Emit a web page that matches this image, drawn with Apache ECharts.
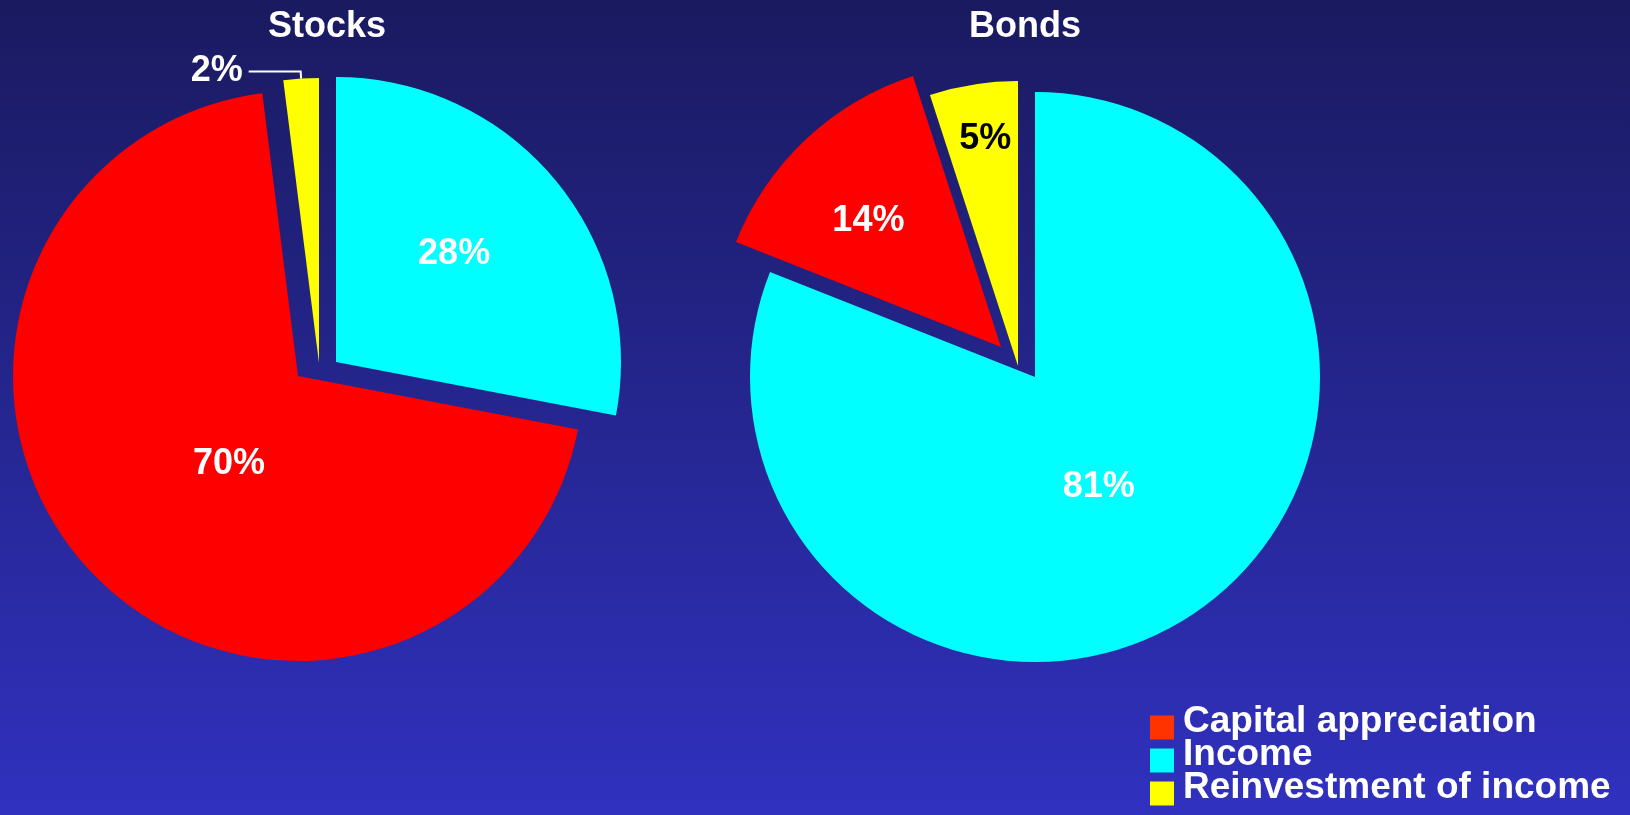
<!DOCTYPE html>
<html>
<head>
<meta charset="utf-8">
<title>Stocks vs Bonds</title>
<script src="https://cdn.jsdelivr.net/npm/echarts@6/dist/echarts.min.js"></script>
<style>
  html, body { margin: 0; padding: 0; }
  #chart { width: 1630px; height: 815px; }
</style>
</head>
<body>
<div id="chart"></div>
<script>
// ---- data ----
const legendNames = ["Capital appreciation", "Income", "Reinvestment of income"];
// slice order around each pie, clockwise from 12 o'clock
const sliceNames = ["Income", "Capital appreciation", "Reinvestment of income"];
const pieTitles = ["Stocks", "Bonds"];
const stocksValues = [28, 70, 2];
const bondsValues = [81, 14, 5];

// ---- layout / style ----
const FONT = "'Liberation Sans', Arial, sans-serif";
const RADIUS = 285;
const sliceColors = {
  "Capital appreciation": "#ff0000",
  "Income": "#00ffff",
  "Reinvestment of income": "#ffff00"
};
const legendColors = {
  "Capital appreciation": "#ff3300",
  "Income": "#00ffff",
  "Reinvestment of income": "#ffff00"
};
// every slice is pulled out on its own, so each gets its own centre
const stocksCenters = [[336, 362], [298, 376], [319, 363]];
const bondsCenters = [[1035, 377], [1001, 347], [1018, 366]];
const stocksLabelShift = [[6, -15], [37, -12], [0, 0]];
const bondsLabelShift = [[-18, -10], [-33, -20], [-10, -83]];
const bondsLabelColor = ["#ffffff", "#ffffff", "#000000"];

function sliceSeries(pieName, values, center, shift, k, labelColor, outside) {
  return {
    type: "pie",
    name: pieName + " - " + sliceNames[k],
    center: center,
    radius: RADIUS,
    startAngle: 90,
    clockwise: true,
    silent: true,
    animation: false,
    avoidLabelOverlap: false,
    emphasis: { disabled: true },
    label: {
      show: true,
      position: outside ? "outside" : "inside",
      formatter: "{c}%",
      color: labelColor,
      fontSize: 36,
      fontWeight: "bold",
      fontFamily: FONT,
      distanceToLabelLine: 6
    },
    labelLine: {
      show: !!outside,
      length: 7,
      length2: 52,
      lineStyle: { color: "#ffffff", width: 2 }
    },
    labelLayout: { dx: shift[0], dy: shift[1] },
    data: sliceNames.map((n, i) => ({
      name: n,
      value: values[i],
      itemStyle: { color: i === k ? sliceColors[n] : "rgba(0,0,0,0)" },
      label: { show: i === k },
      labelLine: { show: i === k && !!outside }
    }))
  };
}

const series = [];
sliceNames.forEach((n, k) => {
  series.push(sliceSeries(pieTitles[0], stocksValues, stocksCenters[k], stocksLabelShift[k], k, "#ffffff", k === 2));
});
sliceNames.forEach((n, k) => {
  series.push(sliceSeries(pieTitles[1], bondsValues, bondsCenters[k], bondsLabelShift[k], k, bondsLabelColor[k], false));
});

const chart = echarts.init(document.getElementById("chart"));

const option = {
  backgroundColor: new echarts.graphic.LinearGradient(0, 0, 0, 1, [
    { offset: 0, color: "#1a1a60" },
    { offset: 1, color: "#3031bf" }
  ]),
  title: [
    {
      text: pieTitles[0], left: 327, top: 9, textAlign: "center", padding: 0,
      textStyle: { color: "#ffffff", fontSize: 36, fontWeight: "bold", fontFamily: FONT }
    },
    {
      text: pieTitles[1], left: 1025, top: 9, textAlign: "center", padding: 0,
      textStyle: { color: "#ffffff", fontSize: 36, fontWeight: "bold", fontFamily: FONT }
    }
  ],
  legend: {
    orient: "vertical",
    left: 1150,
    top: 703,
    height: 200,
    padding: 0,
    itemWidth: 24,
    itemHeight: 36,
    itemGap: -4,
    // square sits in the lower part of the icon box so the text rides a little higher
    icon: "path://M0,0M0,12L24,12L24,36L0,36Z",
    symbolKeepAspect: false,
    selectedMode: false,
    data: legendNames.map(n => ({ name: n, itemStyle: { color: legendColors[n] } })),
    textStyle: {
      color: "#ffffff",
      fontSize: 37,
      fontWeight: "bold",
      fontFamily: FONT,
      lineHeight: 32,
      padding: [0, 0, 0, 4]
    }
  },
  series: series
};

chart.setOption(option);
window.addEventListener("resize", () => chart.resize());
</script>
</body>
</html>
